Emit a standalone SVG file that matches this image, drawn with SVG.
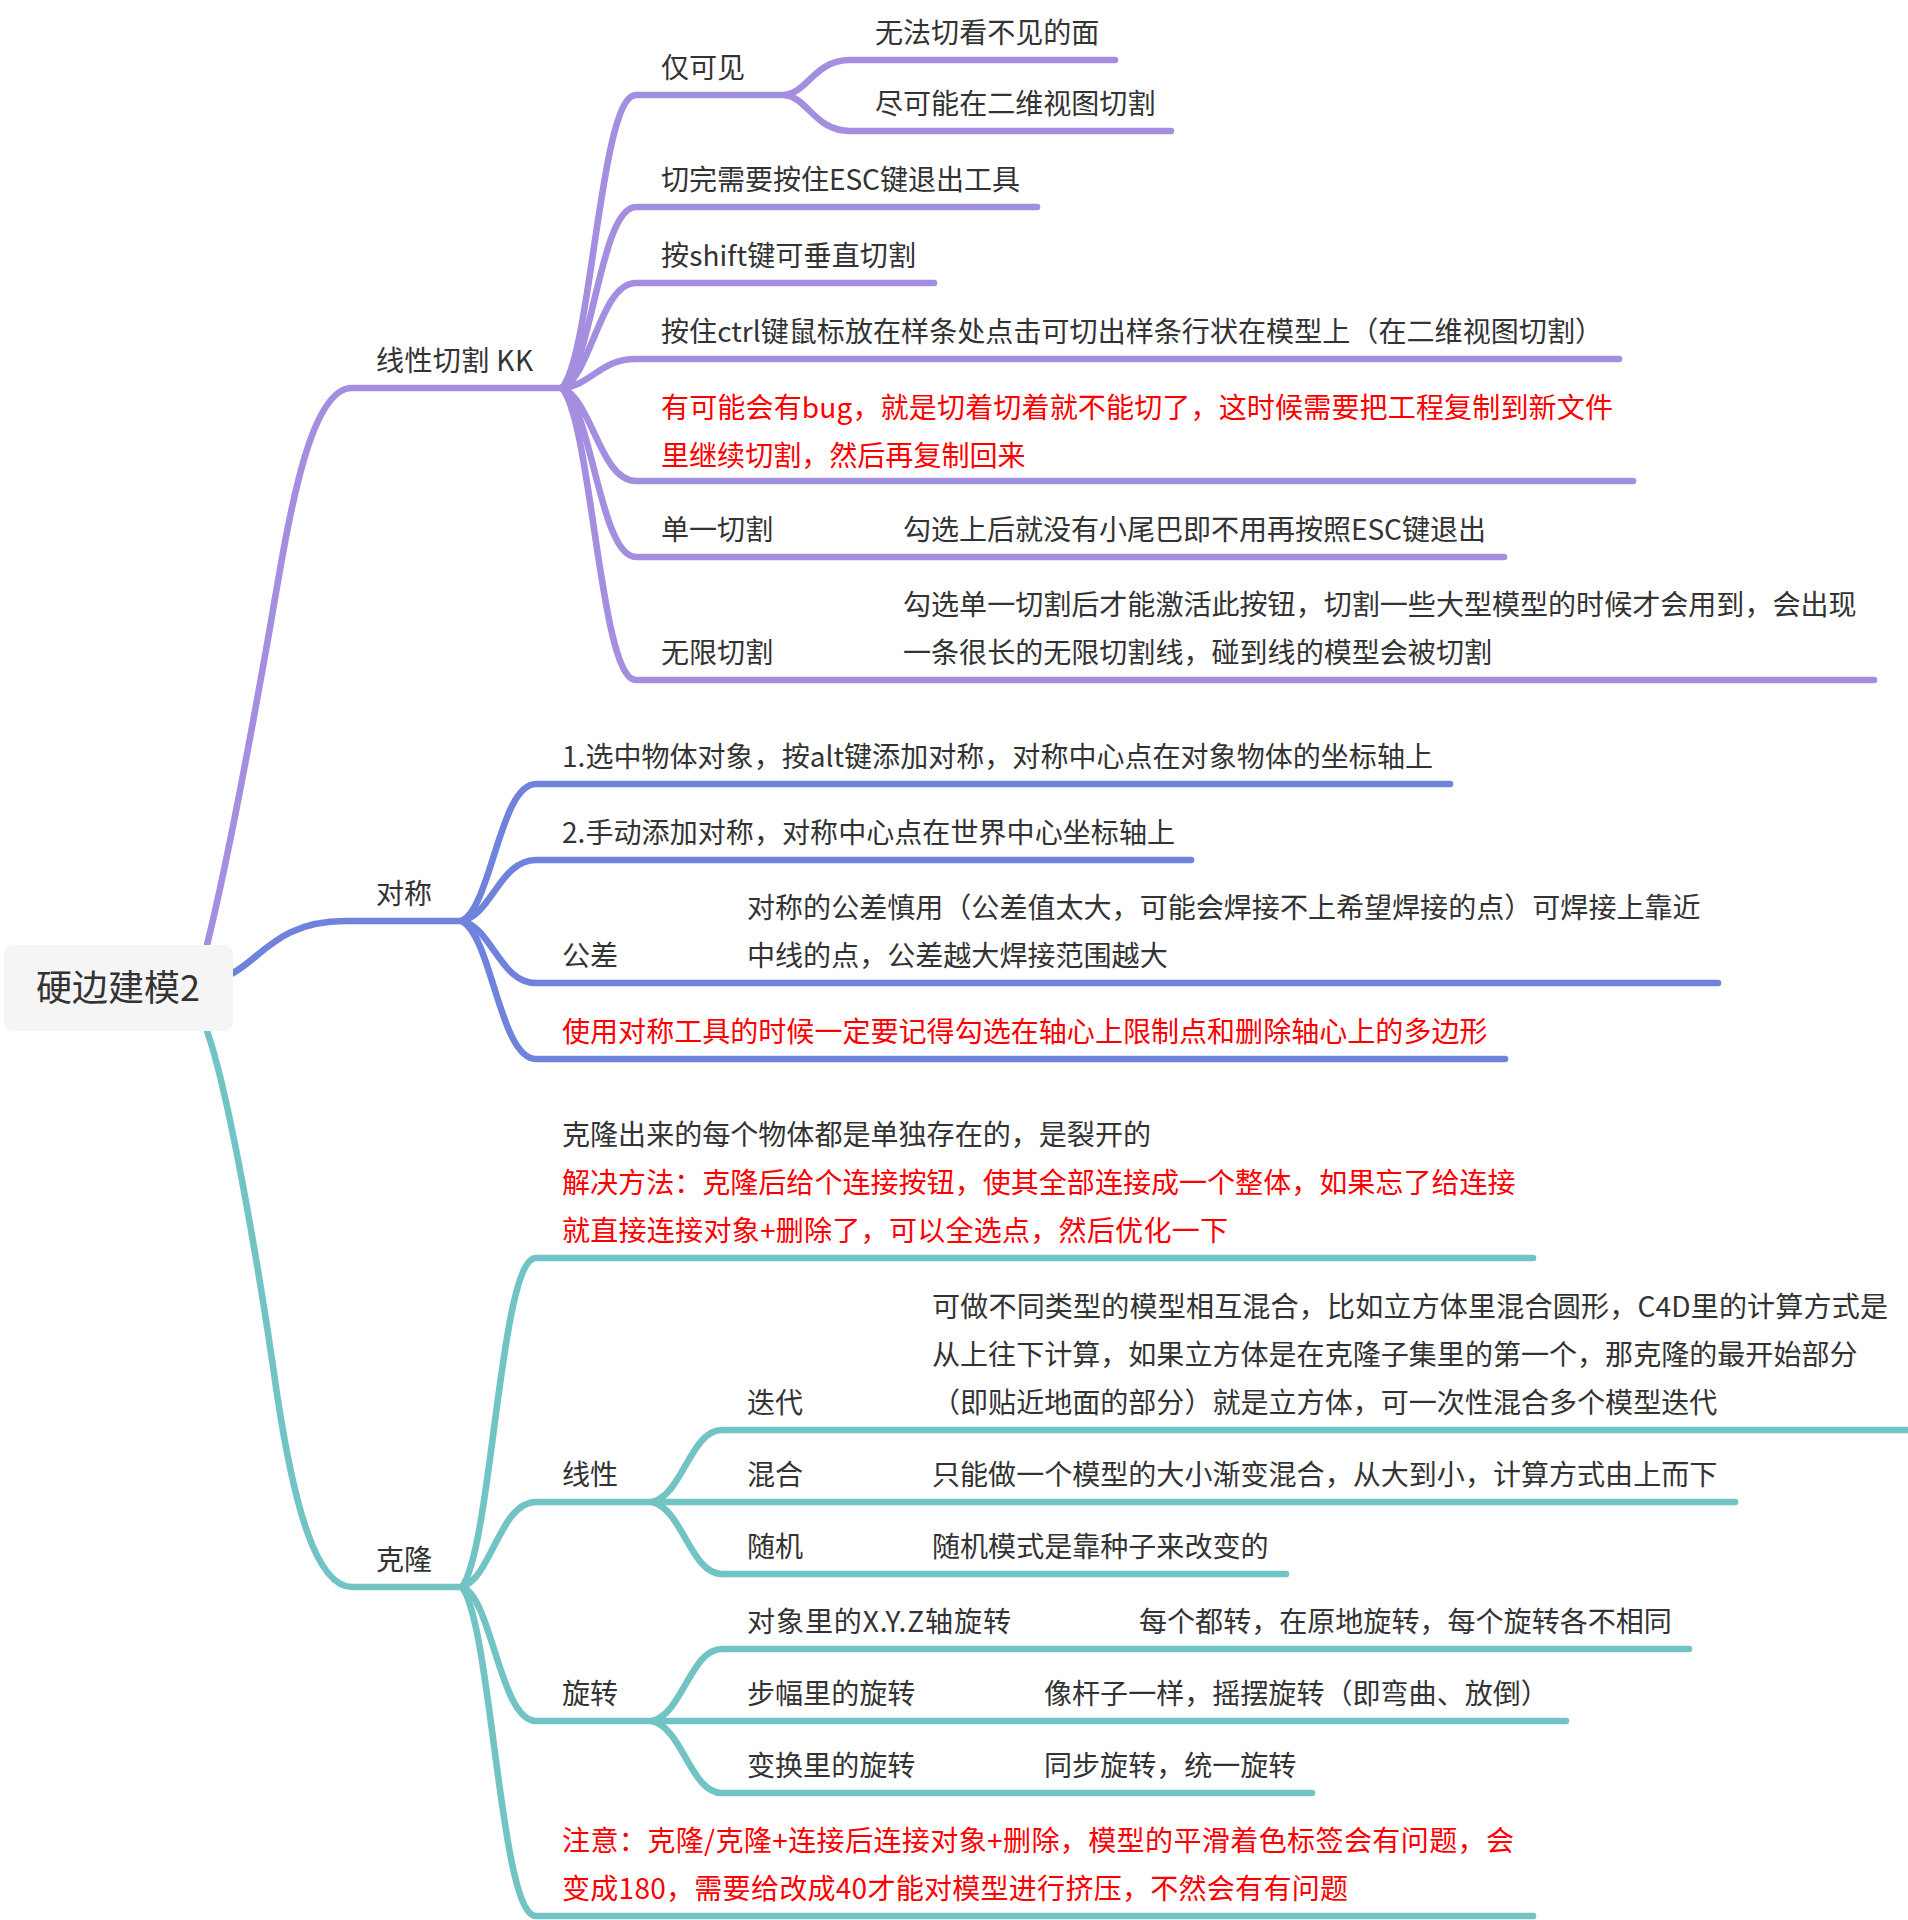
<svg xmlns="http://www.w3.org/2000/svg" width="1908" height="1920" viewBox="0 0 1908 1920">
<style>
text{font-family:"Noto Sans CJK SC","Noto Sans",sans-serif;font-size:28.06px;fill:#333}
.r{fill:#f00}
.c{fill:none;stroke-width:6.6;stroke-linecap:round;stroke-linejoin:round}
.p{stroke:#a38ee0}.b{stroke:#6f82dc}.t{stroke:#72c4c4}
</style>
<rect width="1908" height="1920" fill="#fff"/>
<g id="connectors">
<g class="c p">
<path d="M207 945C228 860 250 740 266 650C285 545 305 388 352 388H562"/>
<path d="M562 388C592 353 600 95 636 95H785"/>
<path d="M785 95C808 92 815 60 850 60H1115"/>
<path d="M785 95C808 98 815 131 850 131H1171"/>
<path d="M562 388C592 367 600 207 636 207H1037"/>
<path d="M562 388C592 375 600 283 636 283H934"/>
<path d="M562 388C592 385 600 359 636 359H1619"/>
<path d="M562 388C592 399 600 481 636 481H1633"/>
<path d="M562 388C592 408 600 557 636 557H1504"/>
<path d="M562 388C592 423 600 680 636 680H1874"/>
</g>
<g class="c b">
<path d="M233 973C262 957 280 921 345 921H462"/>
<path d="M462 921C492 905 500 784 536 784H1450"/>
<path d="M462 921C492 914 500 860 536 860H1191"/>
<path d="M462 921C492 928 500 983 536 983H1718"/>
<path d="M462 921C492 937 500 1059 536 1059H1505"/>
</g>
<g class="c t">
<path d="M207 1031C228 1090 258 1260 277 1394C293 1500 315 1587 352 1587H462"/>
<path d="M462 1587C492 1547 500 1258 536 1258H1533"/>
<path d="M462 1587C492 1577 500 1502 536 1502H653"/>
<path d="M462 1587C492 1597 500 1721 536 1721H653"/>
<path d="M462 1587C492 1627 500 1916 536 1916H1533"/>
<path d="M653 1502C683 1493 691 1430 722 1430H1907"/>
<path d="M653 1502H1735"/>
<path d="M653 1502C683 1511 691 1574 722 1574H1286"/>
<path d="M653 1721C683 1712 691 1649 722 1649H1689"/>
<path d="M653 1721H1566"/>
<path d="M653 1721C683 1730 691 1793 722 1793H1312"/>
</g>
</g>
<g id="root"><rect x="4" y="945" width="229" height="86" rx="9" fill="#f5f5f5"/><text x="36" y="1001" style="font-size:36px">硬边建模2</text></g>
<g id="nodes" transform="translate(0,0.5)">
<g id="n-linear-cut"><text x="376" y="370" textLength="157">线性切割 KK</text></g>
<g id="n-visible"><text x="661" y="77">仅可见</text></g>
<g id="n-v1"><text x="875" y="42">无法切看不见的面</text></g>
<g id="n-v2"><text x="875" y="113">尽可能在二维视图切割</text></g>
<g id="n-esc"><text x="661" y="189" textLength="359">切完需要按住ESC键退出工具</text></g>
<g id="n-shift"><text x="661" y="265" textLength="255">按shift键可垂直切割</text></g>
<g id="n-ctrl"><text x="661" y="341" textLength="942">按住ctrl键鼠标放在样条处点击可切出样条行状在模型上（在二维视图切割）</text></g>
<g id="n-bug"><text class="r" x="661" y="417" textLength="952">有可能会有bug，就是切着切着就不能切了，这时候需要把工程复制到新文件</text><text class="r" x="661" y="465">里继续切割，然后再复制回来</text></g>
<g id="n-single"><text x="661" y="539">单一切割</text><text x="903" y="539" textLength="583">勾选上后就没有小尾巴即不用再按照ESC键退出</text></g>
<g id="n-infinite"><text x="661" y="662">无限切割</text><text x="903" y="614">勾选单一切割后才能激活此按钮，切割一些大型模型的时候才会用到，会出现</text><text x="903" y="662">一条很长的无限切割线，碰到线的模型会被切割</text></g>
<g id="n-symmetry"><text x="376" y="903">对称</text></g>
<g id="n-s1"><text x="562" y="766" textLength="871">1.选中物体对象，按alt键添加对称，对称中心点在对象物体的坐标轴上</text></g>
<g id="n-s2"><text x="562" y="842" textLength="613">2.手动添加对称，对称中心点在世界中心坐标轴上</text></g>
<g id="n-s3"><text x="562" y="965">公差</text><text x="747" y="917">对称的公差慎用（公差值太大，可能会焊接不上希望焊接的点）可焊接上靠近</text><text x="747" y="965">中线的点，公差越大焊接范围越大</text></g>
<g id="n-s4"><text class="r" x="562" y="1041">使用对称工具的时候一定要记得勾选在轴心上限制点和删除轴心上的多边形</text></g>
<g id="n-clone"><text x="376" y="1569">克隆</text></g>
<g id="n-c1"><text x="562" y="1144">克隆出来的每个物体都是单独存在的，是裂开的</text><text class="r" x="562" y="1192">解决方法：克隆后给个连接按钮，使其全部连接成一个整体，如果忘了给连接</text><text class="r" x="562" y="1240" textLength="666">就直接连接对象+删除了，可以全选点，然后优化一下</text></g>
<g id="n-linear"><text x="562" y="1484">线性</text></g>
<g id="n-iter"><text x="747" y="1412">迭代</text><text x="932" y="1316" textLength="956">可做不同类型的模型相互混合，比如立方体里混合圆形，C4D里的计算方式是</text><text x="932" y="1364">从上往下计算，如果立方体是在克隆子集里的第一个，那克隆的最开始部分</text><text x="932" y="1412">（即贴近地面的部分）就是立方体，可一次性混合多个模型迭代</text></g>
<g id="n-mix"><text x="747" y="1484">混合</text><text x="932" y="1484">只能做一个模型的大小渐变混合，从大到小，计算方式由上而下</text></g>
<g id="n-rand"><text x="747" y="1556">随机</text><text x="932" y="1556">随机模式是靠种子来改变的</text></g>
<g id="n-rot"><text x="562" y="1703">旋转</text></g>
<g id="n-r1"><text x="747" y="1631" textLength="264">对象里的X.Y.Z轴旋转</text><text x="1139" y="1631">每个都转，在原地旋转，每个旋转各不相同</text></g>
<g id="n-r2"><text x="747" y="1703">步幅里的旋转</text><text x="1044" y="1703">像杆子一样，摇摆旋转（即弯曲、放倒）</text></g>
<g id="n-r3"><text x="747" y="1775">变换里的旋转</text><text x="1044" y="1775">同步旋转，统一旋转</text></g>
<g id="n-note"><text class="r" x="562" y="1850" textLength="952">注意：克隆/克隆+连接后连接对象+删除，模型的平滑着色标签会有问题，会</text><text class="r" x="562" y="1898" textLength="786">变成180，需要给改成40才能对模型进行挤压，不然会有有问题</text></g>
</g>
</svg>
